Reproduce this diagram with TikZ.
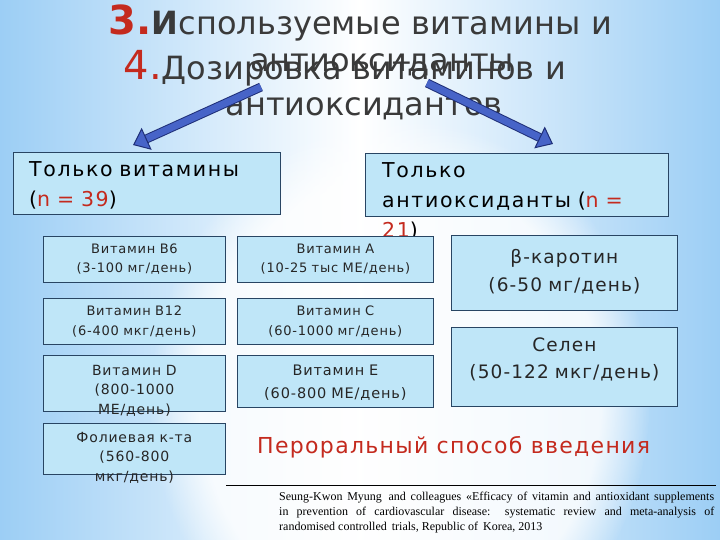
\documentclass[tikz,border=0pt]{standalone}
\usepackage{fontspec}
\setmainfont{DejaVu Sans}
\newfontfamily\spfont[LetterSpace=6]{DejaVu Sans}
\newfontfamily\grpfont[LetterSpace=8]{DejaVu Sans}
\newfontfamily\reffont{Liberation Serif}
\usepackage{tikz}
\usetikzlibrary{arrows.meta,positioning,calc,fadings}
\definecolor{bgblue}{HTML}{9CCEF5}
\definecolor{boxfill}{HTML}{BFE6F8}
\definecolor{boxline}{HTML}{284563}
\definecolor{titlegray}{HTML}{3A3A3A}
\definecolor{numred}{HTML}{C42A1E}
\definecolor{arrfill}{HTML}{4764C8}
\definecolor{arrline}{HTML}{1F2F78}
\tikzset{
  grpbox/.style={draw=boxline,fill=boxfill,line width=0.8pt,anchor=north west,inner sep=0pt},
  grptxt/.style={anchor=base west,align=left,text width=320,inner sep=0pt,font=\grpfont\fontsize{20.5}{30}\selectfont},
  smbox/.style={draw=boxline,fill=boxfill,line width=0.8pt,anchor=north west,inner sep=0pt},
  smtxt/.style={anchor=base,align=center,text width=200,inner sep=0pt,text=black!85,font=\spfont\fontsize{13}{20}\selectfont},
  mdtxt/.style={anchor=base,align=center,text width=200,inner sep=0pt,text=black!85,font=\spfont\fontsize{14}{19.5}\selectfont},
  bgtxt/.style={anchor=base,align=center,text width=230,inner sep=0pt,text=black!85,font=\spfont\fontsize{18.5}{28}\selectfont},
  titletxt/.style={anchor=base,align=center,text width=520,inner sep=0pt,text=titlegray,font=\fontsize{32}{37}\selectfont},
  bigarr/.style={draw=arrline,line width=1pt,double=arrfill,double distance=7pt,
    -{Triangle[length=15pt,width=24pt,fill=arrfill]}},
  hair/.style={line width=0.7pt,draw=black}
}
\newcommand{\nred}[1]{\textcolor{numred}{#1}}

\begin{document}
\begin{tikzpicture}[x=1pt,y=-1pt]
  % background
  \useasboundingbox (0,0) rectangle (720,540);
  \shade[left color=bgblue,right color=bgblue,middle color=white] (0,0) rectangle (720,540);
  \fill[white,opacity=0.8,path fading=circle with fuzzy edge 20 percent] (400,400) ellipse [x radius=250,y radius=280];

  % title
  \node[titletxt] (t3) at (382,35) {\llap{\textcolor{numred}{\fontsize{40}{40}\selectfont\bfseries 3.}}\textbf{И}спользуемые витамины и\\антиоксиданты};
  \node[titletxt,font=\fontsize{32}{36}\selectfont] (t4) at (364,80) {\llap{\textcolor{numred}{\fontsize{40}{40}\selectfont 4.}}Дозировка витаминов и\\антиоксидантов};

  % groups
  \node[grpbox,minimum width=267,minimum height=62] (vit) at (13,152) {};
  \node[grptxt] (vitt) at (29,177) {Только витамины\\(\nred{n = 39})};
  \node[grpbox,minimum width=303,minimum height=63] (ant) at (365,153) {};
  \node[grptxt] (antt) at (382,178) {Только\\антиоксиданты (\nred{n =}\\\nred{21})};

  % left column
  \node[smbox,minimum width=182,minimum height=46] (b6) at (43,236) {};
  \node[smtxt] (b6t) at ($(b6.north)+(0,17)$) {Витамин B6\\(3-100 мг/день)};
  \node[smbox,minimum width=182,minimum height=46] (b12) at (43,298) {};
  \node[smtxt] (b12t) at ($(b12.north)+(0,17)$) {Витамин B12\\(6-400 мкг/день)};
  \node[smbox,minimum width=182,minimum height=56] (vd) at (43,355) {};
  \node[mdtxt] (vdt) at ($(vd.north)+(0,20)$) {Витамин D\\(800-1000\\МЕ/день)};
  \node[smbox,minimum width=182,minimum height=51] (fol) at (43,423) {};
  \node[mdtxt] (folt) at ($(fol.north)+(0,19)$) {Фолиевая к-та\\(560-800\\мкг/день)};

  % middle column
  \node[smbox,minimum width=196,minimum height=46] (va) at (237,236) {};
  \node[smtxt] (vat) at ($(va.north)+(0,17)$) {Витамин A\\(10-25 тыс МЕ/день)};
  \node[smbox,minimum width=196,minimum height=46] (vc) at (237,298) {};
  \node[smtxt] (vct) at ($(vc.north)+(0,17)$) {Витамин C\\(60-1000 мг/день)};
  \node[smbox,minimum width=196,minimum height=52] (ve) at (237,355) {};
  \node[mdtxt,font=\spfont\fontsize{14.5}{23}\selectfont] (vet) at ($(ve.north)+(0,20)$) {Витамин E\\(60-800 МЕ/день)};

  % right column
  \node[smbox,minimum width=226,minimum height=75] (beta) at (451,235) {};
  \node[bgtxt] (betat) at ($(beta.north)+(0,28)$) {β-каротин\\(6-50 мг/день)};
  \node[smbox,minimum width=226,minimum height=79] (sel) at (451,327) {};
  \node[bgtxt,font=\spfont\fontsize{18.5}{27}\selectfont] (selt) at ($(sel.north)+(0,24)$) {Селен\\(50-122 мкг/день)};

  \node[anchor=base west,inner sep=0pt,text=numred,font=\spfont\fontsize{22}{22}\selectfont] (oral) at (257,453) {Пероральный способ введения};

  % arrows
  \coordinate (la) at (261,87);
  \coordinate (lt) at (133,145);
  \coordinate (ra) at (427,83);
  \coordinate (rt) at (553,144);
  \draw[bigarr] (la) -- (lt);
  \draw[bigarr] (ra) -- (rt);

  % reference
  \coordinate (rl) at (226,485);
  \coordinate (rr) at (716,485);
  \draw[hair] (rl) -- (rr);
  \node[anchor=base west,inner sep=0pt,text width=435,align=justify,font=\reffont\fontsize{12}{15}\selectfont] (cite) at (279,500) {Seung-Kwon Myung\, and colleagues «Efficacy of vitamin and antioxidant supplements\linebreak in prevention of cardiovascular disease: systematic review and meta-analysis of\linebreak randomised controlled\, trials, Republic of\, Korea, 2013};
\end{tikzpicture}
\end{document}
